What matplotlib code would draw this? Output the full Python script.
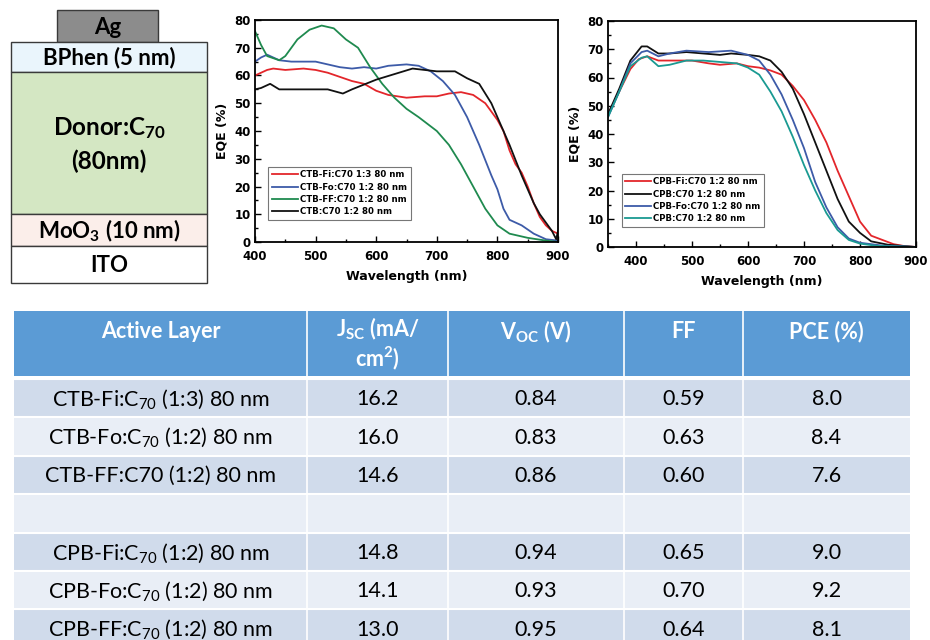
import numpy as np
import matplotlib
matplotlib.use("Agg")
import matplotlib.pyplot as plt
from matplotlib.patches import Rectangle
from matplotlib.ticker import MultipleLocator

plt.rcParams['mathtext.fontset'] = 'custom'
plt.rcParams['mathtext.rm'] = 'Lato'
plt.rcParams['mathtext.bf'] = 'Lato:bold'
plt.rcParams['mathtext.default'] = 'regular'

# ---------------- data: left EQE panel (CTB series) ----------------
ctb_fi_x = [400, 420, 430, 450, 480, 500, 520, 540, 560, 580, 600, 620, 650, 680, 700, 720, 740, 760, 780, 800, 810, 820, 830, 840, 850, 860, 870, 880, 890, 900]
ctb_fi_y = [60, 62, 62.5, 62, 62.5, 62, 61, 59.5, 58, 57, 54.5, 53, 52, 52.5, 52.5, 53.5, 54, 53, 50, 44, 40, 33, 28, 25, 20, 14, 9, 6, 4, 3]

ctb_fo_x = [400, 410, 420, 440, 460, 500, 520, 540, 560, 580, 600, 620, 650, 670, 690, 710, 730, 750, 770, 790, 800, 810, 820, 840, 860, 880, 900]
ctb_fo_y = [65, 66.5, 67.5, 65.5, 65, 65, 64, 63, 62.5, 63, 62.5, 63.5, 64, 63.5, 61.5, 58, 53, 45, 35, 24, 19, 12, 8, 6, 3, 1, 0.5]

ctb_ff_x = [400, 410, 420, 440, 450, 470, 490, 510, 530, 550, 570, 590, 610, 630, 650, 670, 700, 720, 740, 760, 780, 800, 820, 850, 880, 900]
ctb_ff_y = [76, 71, 67, 65.5, 67, 73, 76.5, 78, 77, 73, 70, 63, 57, 52, 48, 45, 40, 35, 28, 20, 12, 6, 3, 1.5, 0.5, 0]

ctb_x = [400, 410, 425, 440, 480, 520, 545, 560, 600, 630, 660, 700, 730, 750, 770, 790, 800, 820, 840, 860, 870, 880, 890, 897, 900]
ctb_y = [55, 55.5, 57, 55, 55, 55, 53.5, 55, 58.5, 60.5, 62.5, 61.5, 61.5, 59, 57, 50, 45, 35, 24, 14, 10, 7, 4, 1, 4]

# ---------------- data: right EQE panel (CPB series) ----------------
cpb_fi_x = [350, 370, 390, 405, 420, 440, 470, 500, 530, 550, 580, 600, 620, 640, 660, 680, 700, 720, 740, 760, 780, 800, 820, 840, 860, 880, 900]
cpb_fi_y = [47, 55, 63, 66.5, 67.5, 66, 66, 66, 65, 64.5, 65, 64, 63.5, 62.5, 61, 57, 52, 45, 37, 27, 18, 9, 4, 2.5, 1, 0.3, 0]

cpb_x = [350, 370, 390, 410, 420, 440, 460, 490, 520, 550, 570, 600, 620, 640, 660, 680, 700, 720, 740, 760, 780, 800, 820, 850, 880, 900]
cpb_y = [47, 56, 66, 71, 71, 68.5, 68.5, 69, 68.5, 68, 68.5, 68, 67.5, 66, 62, 56, 47, 37, 27, 17, 9, 5, 2, 0.8, 0.3, 0]

cpb_fo_x = [350, 370, 390, 410, 420, 440, 460, 490, 530, 570, 600, 620, 640, 660, 680, 700, 720, 740, 760, 780, 800, 840, 900]
cpb_fo_y = [46, 55, 65, 69, 69.5, 67.5, 68.5, 69.5, 69, 69.5, 68, 66, 61, 54, 45, 35, 23, 14, 7, 3, 1.5, 0.5, 0]

cpb_ff_x = [350, 370, 390, 410, 420, 440, 460, 490, 520, 550, 580, 600, 620, 640, 660, 680, 700, 720, 740, 760, 780, 800, 830, 900]
cpb_ff_y = [46, 55, 64, 67, 67.5, 64, 64.5, 66, 66, 65.5, 65, 63.5, 61, 55, 48, 39, 29, 20, 12, 6, 2.5, 1.2, 0.4, 0]

left_labels = ["CTB-Fi:C70 1:3 80 nm", "CTB-Fo:C70 1:2 80 nm", "CTB-FF:C70 1:2 80 nm", "CTB:C70 1:2 80 nm"]
right_labels = ["CPB-Fi:C70 1:2 80 nm", "CPB:C70 1:2 80 nm", "CPB-Fo:C70 1:2 80 nm", "CPB:C70 1:2 80 nm"]

# ---------------- data: table ----------------
table_header = ["Active Layer", "J$_{SC}$ (mA/\ncm$^{2}$)", "V$_{OC}$ (V)", "FF", "PCE (%)"]
active_layers = ["CTB-Fi:C$_{70}$ (1:3) 80 nm", "CTB-Fo:C$_{70}$ (1:2) 80 nm", "CTB-FF:C70 (1:2) 80 nm", "",
                 "CPB-Fi:C$_{70}$ (1:2) 80 nm", "CPB-Fo:C$_{70}$ (1:2) 80 nm", "CPB-FF:C$_{70}$ (1:2) 80 nm"]
jsc = ["16.2", "16.0", "14.6", "", "14.8", "14.1", "13.0"]
voc = ["0.84", "0.83", "0.86", "", "0.94", "0.93", "0.95"]
ff = ["0.59", "0.63", "0.60", "", "0.65", "0.70", "0.64"]
pce = ["8.0", "8.4", "7.6", "", "9.0", "9.2", "8.1"]

# ---------------- data: device stack ----------------
stack_labels = ["Ag", "BPhen (5 nm)", "Donor:C$_{70}$\n(80nm)", "MoO$_{3}$ (10 nm)", "ITO"]
stack_colors = ["#8c8c8c", "#eaf5fc", "#d4e7c3", "#fbeeea", "#ffffff"]

W, H = 930, 640
fig = plt.figure(figsize=(W / 100, H / 100), dpi=100)

# overlay axes in pixel coordinates
ov = fig.add_axes([0, 0, 1, 1])
ov.set_xlim(0, W)
ov.set_ylim(H, 0)
ov.axis('off')

# ---- device stack ----
layer_boxes = [(57, 10, 101, 32), (11, 42, 196, 30), (11, 72, 196, 142), (11, 214, 196, 32), (11, 246, 196, 37)]
for (x, y, w, h), c, lab in zip(layer_boxes, stack_colors, stack_labels):
    ov.add_patch(Rectangle((x, y), w, h, facecolor=c, edgecolor='#3a3a3a', lw=1.0))
    ov.text(x + w / 2, y + h / 2 + 1, lab, ha='center', va='center', fontsize=16 if '\n' not in lab else 17.5,
            fontweight='bold', family='Lato', color='#000000', linespacing=1.45)

# ---- table ----
col_edges = [14, 307, 448, 624, 743, 910]
header_top, header_bot = 311, 376
row_top0, row_h = 379, 38.4
ov.add_patch(Rectangle((col_edges[0], header_top), col_edges[-1] - col_edges[0], header_bot - header_top,
                       facecolor='#5b9bd5', edgecolor='none'))
for i, txt in enumerate(table_header):
    xc = (col_edges[i] + col_edges[i + 1]) / 2
    yc = 332 if '\n' not in txt else 344
    ov.text(xc, yc, txt, ha='center', va='center', fontsize=15.5, color='white', family='Lato',
            fontweight='bold', linespacing=1.1)
columns = [active_layers, jsc, voc, ff, pce]
for r in range(len(active_layers)):
    y = row_top0 + r * row_h
    ov.add_patch(Rectangle((col_edges[0], y), col_edges[-1] - col_edges[0], row_h,
                           facecolor='#d0dbeb' if r % 2 == 0 else '#e9eef6', edgecolor='none'))
    for c, col in enumerate(columns):
        xc = (col_edges[c] + col_edges[c + 1]) / 2
        ov.text(xc, y + row_h / 2 + 1, col[r], ha='center', va='center', fontsize=15.5, color='#000000',
                family='Lato')
    ov.plot([col_edges[0], col_edges[-1]], [y, y], color='white', lw=1.5)
for xe in col_edges[1:-1]:
    ov.plot([xe, xe], [header_top, H], color='white', lw=1.2)


def style_eqe(ax, xlim):
    ax.set_xlim(*xlim)
    ax.set_ylim(0, 80)
    ax.xaxis.set_major_locator(MultipleLocator(100))
    ax.xaxis.set_minor_locator(MultipleLocator(50))
    ax.yaxis.set_major_locator(MultipleLocator(10))
    ax.yaxis.set_minor_locator(MultipleLocator(5))
    ax.tick_params(which='both', direction='in', top=False, right=False, width=1.0)
    ax.tick_params(which='major', length=4, labelsize=8.5)
    ax.tick_params(axis='x', which='major', pad=6)
    ax.tick_params(axis='y', which='major', pad=3)
    ax.tick_params(which='minor', length=2)
    for lab in ax.get_xticklabels() + ax.get_yticklabels():
        lab.set_fontweight('bold')
        lab.set_family('DejaVu Sans')
    for s in ax.spines.values():
        s.set_linewidth(1.3)
    ax.set_xlabel("Wavelength (nm)", fontsize=9, fontweight='bold', labelpad=5)
    ax.set_ylabel("EQE (%)", fontsize=9, fontweight='bold', labelpad=4)


# ---- left EQE chart ----
axL = fig.add_axes([255 / W, 1 - 242 / H, 303 / W, 222 / H])
axL.plot(ctb_fi_x, ctb_fi_y, color='#e3262b', lw=1.3, label=left_labels[0])
axL.plot(ctb_fo_x, ctb_fo_y, color='#3d5ba8', lw=1.3, label=left_labels[1])
axL.plot(ctb_ff_x, ctb_ff_y, color='#1f8a4f', lw=1.3, label=left_labels[2])
axL.plot(ctb_x, ctb_y, color='#111111', lw=1.3, label=left_labels[3])
style_eqe(axL, (400, 900))
legL = axL.legend(loc='lower left', bbox_to_anchor=(0.03, 0.08), frameon=True, fancybox=False,
                  edgecolor='#555555', handlelength=3.0, handletextpad=0.3, borderpad=0.4, labelspacing=0.4,
                  prop={'weight': 'bold', 'size': 6.2})
legL.get_frame().set_linewidth(0.8)

# ---- right EQE chart ----
axR = fig.add_axes([608 / W, 1 - 247 / H, 308 / W, 226 / H])
axR.plot(cpb_fi_x, cpb_fi_y, color='#e3262b', lw=1.3, label=right_labels[0])
axR.plot(cpb_x, cpb_y, color='#111111', lw=1.3, label=right_labels[1])
axR.plot(cpb_fo_x, cpb_fo_y, color='#3d5ba8', lw=1.3, label=right_labels[2])
axR.plot(cpb_ff_x, cpb_ff_y, color='#1a9a92', lw=1.3, label=right_labels[3])
style_eqe(axR, (350, 900))
legR = axR.legend(loc='lower left', bbox_to_anchor=(0.03, 0.07), frameon=True, fancybox=False,
                  edgecolor='#555555', handlelength=3.0, handletextpad=0.3, borderpad=0.4, labelspacing=0.4,
                  prop={'weight': 'bold', 'size': 6.2})
legR.get_frame().set_linewidth(0.8)

fig.savefig("out.png", dpi=100)
